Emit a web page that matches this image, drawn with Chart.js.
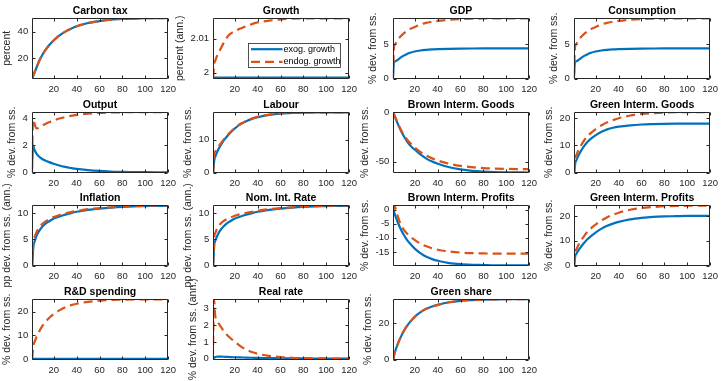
<!DOCTYPE html>
<html>
<head>
<meta charset="utf-8">
<script src="https://cdn.jsdelivr.net/npm/chart.js@4/dist/chart.umd.min.js"></script>
<style>
html, body { margin: 0; padding: 0; overflow: hidden; background: #fff; }
body { position: relative; width: 721px; height: 381px; }
.panel { position: absolute; }
</style>
</head>
<body>
<script>
const periods = [1,2,3,4,5,7,10,13,16,20,25,30,35,40,50,60,70,80,90,100,110,120]
const xTicks = [20,40,60,80,100,120]
const seriesNames = ["exog. growth","endog. growth"]

const carbonExog = [4.4,6.6,8.9,11.1,13.2,17.5,22.5,26.5,29.8,33.5,37.2,40.0,42.2,44.0,46.5,48.0,49.0,49.6,49.9,50.1,50.2,50.3]
const carbonEndog = [4.4,6.6,8.9,11.1,13.2,17.5,22.5,26.5,29.8,33.5,37.2,40.0,42.2,44.0,46.5,48.0,49.0,49.6,49.9,50.1,50.2,50.3]
const growthExog = [1.9985,1.9985,1.9985,1.9985,1.9985,1.9985,1.9985,1.9985,1.9985,1.9985,1.9985,1.9985,1.9985,1.9985,1.9985,1.9985,1.9985,1.9985,1.9985,1.9985,1.9985,1.9985]
const growthEndog = [1.9985,2.0025,2.0036,2.0045,2.0053,2.0066,2.0086,2.0103,2.0114,2.0122,2.0130,2.0137,2.0143,2.0148,2.0153,2.0157,2.0159,2.0160,2.0160,2.0160,2.0160,2.0160]
const gdpExog = [0,2.45,2.5,2.6,2.7,2.95,3.3,3.55,3.75,3.93,4.08,4.17,4.23,4.27,4.32,4.35,4.37,4.38,4.38,4.38,4.38,4.38]
const gdpEndog = [0,4.6,5.0,5.3,5.6,6.0,6.5,6.9,7.2,7.5,7.85,8.1,8.25,8.38,8.55,8.65,8.7,8.73,8.75,8.75,8.75,8.75]
const consExog = [0,2.45,2.5,2.6,2.7,2.95,3.3,3.55,3.75,3.93,4.08,4.17,4.23,4.27,4.32,4.35,4.37,4.38,4.38,4.38,4.38,4.38]
const consEndog = [0,4.6,5.0,5.3,5.6,6.0,6.5,6.9,7.2,7.5,7.85,8.1,8.25,8.38,8.55,8.65,8.7,8.73,8.75,8.75,8.75,8.75]
const outputExog = [0,2.0,1.75,1.55,1.4,1.2,1.0,0.87,0.77,0.65,0.52,0.42,0.34,0.27,0.18,0.12,0.08,0.05,0.04,0.03,0.02,0.01]
const outputEndog = [0,3.9,3.7,3.4,3.25,3.28,3.45,3.58,3.7,3.83,3.97,4.08,4.17,4.24,4.33,4.39,4.42,4.43,4.43,4.43,4.43,4.43]
const labourExog = [0,3.9,5.0,5.9,6.7,8.0,9.7,11.0,12.2,13.5,14.8,15.7,16.4,16.9,17.6,18.0,18.2,18.3,18.35,18.35,18.35,18.35]
const labourEndog = [0,5.9,6.5,7.1,7.6,8.6,10.0,11.2,12.3,13.6,14.9,15.8,16.5,17.0,17.7,18.1,18.3,18.4,18.4,18.4,18.4,18.4]
const brownGoodsExog = [0,-3.2,-6.2,-9,-11.8,-17,-23.7,-29.5,-34,-38,-43,-47,-50,-52.3,-55.8,-58,-59.5,-60.3,-60.8,-61,-61.1,-61.2]
const brownGoodsEndog = [0,-2.8,-5.6,-8.3,-11,-16,-22.5,-27.5,-31.5,-36,-40.5,-44,-46.8,-49,-52.3,-54.5,-55.8,-56.7,-57.2,-57.5,-57.7,-57.7]
const greenGoodsExog = [0,3.5,4.6,5.6,6.5,8.0,9.9,11.4,12.6,13.8,15.0,15.9,16.5,16.9,17.4,17.7,17.85,17.95,18.0,18.0,18.0,18.0]
const greenGoodsEndog = [0,5.5,6.5,7.5,8.4,10.0,12.0,13.5,14.7,16.0,17.4,18.5,19.3,20.0,21.0,21.6,21.9,22.1,22.2,22.2,22.2,22.2]
const inflExog = [0,3.5,4.5,5.2,5.8,6.6,7.5,8.1,8.5,9.0,9.4,9.75,10.05,10.3,10.65,10.9,11.1,11.25,11.35,11.4,11.45,11.45]
const inflEndog = [0,4.5,5.4,6.0,6.5,7.2,8.0,8.5,8.9,9.3,9.7,10.0,10.25,10.45,10.8,11.0,11.15,11.3,11.4,11.45,11.5,11.5]
const nomExog = [0,4.0,4.8,5.4,5.9,6.7,7.5,8.1,8.5,9.0,9.4,9.75,10.05,10.3,10.65,10.9,11.1,11.25,11.35,11.4,11.45,11.45]
const nomEndog = [0,5.5,6.3,6.9,7.3,7.9,8.5,8.9,9.2,9.55,9.85,10.1,10.3,10.5,10.8,11.0,11.15,11.3,11.4,11.45,11.5,11.5]
const brownProfExog = [0,-1.3,-2.5,-3.6,-4.6,-6.5,-8.8,-10.7,-12.2,-13.9,-15.5,-16.7,-17.5,-18.1,-18.9,-19.3,-19.5,-19.6,-19.7,-19.7,-19.7,-19.7]
const brownProfEndog = [0,1.5,0.3,-1.2,-2.5,-4.8,-7.0,-8.5,-9.6,-10.8,-12.1,-13.0,-13.7,-14.2,-14.8,-15.2,-15.4,-15.5,-15.6,-15.6,-15.6,-15.6]
const greenProfExog = [0,4.0,4.8,5.6,6.3,7.6,9.3,10.8,12.0,13.4,14.9,16.0,16.9,17.6,18.6,19.2,19.6,19.8,19.9,20,20,20]
const greenProfEndog = [0,5.5,6.6,7.6,8.5,10.1,12.1,13.8,15.1,16.6,18.2,19.5,20.5,21.3,22.5,23.2,23.6,23.9,24.0,24.1,24.1,24.1]
const rdExog = [0,0,0,0,0,0,0,0,0,0,0,0,0,0,0,0,0,0,0,0,0,0]
const rdEndog = [0,5.5,7.0,8.3,9.5,11.5,13.9,15.8,17.4,19.0,20.6,21.8,22.7,23.3,24.1,24.6,24.9,25.0,25.1,25.1,25.1,25.1]
const realExog = [0,0.05,0.1,0.12,0.13,0.13,0.12,0.11,0.1,0.09,0.08,0.07,0.06,0.05,0.04,0.03,0.02,0.02,0.01,0.01,0.01,0.01]
const realEndog = [0,3.55,2.6,2.3,2.2,2.0,1.7,1.45,1.25,1.02,0.75,0.55,0.4,0.3,0.17,0.1,0.06,0.04,0.03,0.02,0.01,0.01]
const shareExog = [0,3,5,6.8,8.5,11.5,15.3,18.3,20.8,23.5,26.0,27.8,29.1,30.0,31.4,32.2,32.6,32.9,33.0,33.1,33.1,33.1]
const shareEndog = [0,3,5,6.8,8.5,11.5,15.3,18.3,20.8,23.5,26.0,27.8,29.1,30.0,31.4,32.2,32.6,32.9,33.0,33.1,33.1,33.1]

const titles = ["Carbon tax","Growth","GDP","Consumption","Output","Labour","Brown Interm. Goods","Green Interm. Goods",
  "Inflation","Nom. Int. Rate","Brown Interm. Profits","Green Interm. Profits","R&D spending","Real rate","Green share"]
const yLabels = ["percent","percent (ann.)","% dev. from ss.","% dev. from ss.","% dev. from ss.","% dev. from ss.","% dev. from ss.","% dev. from ss.",
  "pp dev. from ss. (ann.)","pp dev. from ss. (ann.)","% dev. from ss.","% dev. from ss.","% dev. from ss.","% dev. from ss. (ann.)","% dev. from ss."]
const yMins = [4.4,1.9982,0,0,0,0,-61.3,0,0,0,-19.8,0,-0.3,-0.05,0]
const yMaxs = [50.3,2.0161,8.8,8.8,4.45,18.5,0.5,22.3,11.6,11.6,1.6,24.4,25.3,3.56,33.2]
const yTicks = [[20,40],[2,2.01],[0,5],[0,5],[0,2,4],[0,10],[-50,0],[0,10,20],[0,5,10],[0,5,10],[-15,-10,-5,0],[0,10,20],[0,10,20],[0,1,2,3],[0,20]]
const exogSeries = [carbonExog,growthExog,gdpExog,consExog,outputExog,labourExog,brownGoodsExog,greenGoodsExog,
  inflExog,nomExog,brownProfExog,greenProfExog,rdExog,realExog,shareExog]
const endogSeries = [carbonEndog,growthEndog,gdpEndog,consEndog,outputEndog,labourEndog,brownGoodsEndog,greenGoodsEndog,
  inflEndog,nomEndog,brownProfEndog,greenProfEndog,rdEndog,realEndog,shareEndog]

/* LAYOUT */
const colLeft = [32,213,393,574]
const rowTop = [18,112,205,299]
const PW = 136, PH = 61
const FONT = '"Liberation Sans", Arial, Helvetica, sans-serif'
const AXIS = "#262626"

/* box, inner ticks, title and legend */
const decor = {
  id: "decor",
  afterDraw(chart, args, opts) {
    const ctx = chart.ctx, a = chart.chartArea
    const sx = chart.scales.x, sy = chart.scales.y
    const L = Math.round(a.left) + 0.5, T = Math.round(a.top) + 0.5
    const R = Math.round(a.right) - 0.5, B = Math.round(a.bottom) - 0.5
    ctx.save()
    ctx.strokeStyle = AXIS
    ctx.lineWidth = 1
    ctx.beginPath()
    ctx.rect(L, T, R - L, B - T)
    sx.ticks.forEach(t => {
      const p = Math.round(sx.getPixelForValue(t.value)) + 0.5
      ctx.moveTo(p, B); ctx.lineTo(p, B - 3)
      ctx.moveTo(p, T); ctx.lineTo(p, T + 3)
    })
    sy.ticks.forEach(t => {
      const p = Math.round(sy.getPixelForValue(t.value)) + 0.5
      ctx.moveTo(L, p); ctx.lineTo(L + 3, p)
      ctx.moveTo(R, p); ctx.lineTo(R - 3, p)
    })
    ctx.stroke()

    ctx.fillStyle = "#000"
    ctx.font = "bold 10.5px " + FONT
    ctx.textAlign = "center"
    ctx.textBaseline = "middle"
    ctx.fillText(opts.title, (a.left + a.right) / 2, a.top - 7)

    if (opts.legend) {
      const bx = Math.round(a.left + 34.5) + 0.5, by = Math.round(a.top + 25) + 0.5
      const bw = 92, bh = 24
      ctx.fillStyle = "#fff"
      ctx.fillRect(bx, by, bw, bh)
      ctx.strokeStyle = AXIS
      ctx.lineWidth = 0.8
      ctx.strokeRect(bx, by, bw, bh)
      chart.data.datasets.forEach((ds, i) => {
        const y = by + 5.7 + i * 12.7
        ctx.strokeStyle = ds.borderColor
        ctx.lineWidth = ds.borderWidth
        ctx.setLineDash(ds.borderDash || [])
        ctx.beginPath(); ctx.moveTo(bx + 2.5, y); ctx.lineTo(bx + 34, y); ctx.stroke()
        ctx.setLineDash([])
        ctx.fillStyle = "#000"
        ctx.font = "9px " + FONT
        ctx.textAlign = "left"
        ctx.fillText(ds.label, bx + 35, y)
      })
    }
    ctx.restore()
  }
}

const toPoints = arr => periods.map((t, i) => ({x: t, y: arr[i]}))

titles.forEach((name, i) => {

  const col = i % 4, row = Math.floor(i / 4)

  const box = document.createElement("div")
  box.className = "panel"
  box.style.width = "260px"
  box.style.height = "200px"
  const cv = document.createElement("canvas")
  box.appendChild(cv)
  document.body.appendChild(box)

  const chart = new Chart(cv, {
    type: "line",
    data: {
      datasets: [{
        label: seriesNames[0],
        data: toPoints(exogSeries[i]),
        borderColor: "#0072BD",
        borderWidth: 2.2,
        pointRadius: 0,
        order: 2,
        cubicInterpolationMode: "monotone"
      }, {
        label: seriesNames[1],
        data: toPoints(endogSeries[i]),
        borderColor: "#D95319",
        borderWidth: 2.2,
        borderDash: [9, 5],
        pointRadius: 0,
        order: 1,
        cubicInterpolationMode: "monotone"
      }]
    },
    options: {
      responsive: true,
      maintainAspectRatio: false,
      animation: false,
      events: [],
      layout: { padding: { top: 40, bottom: 32, left: 2, right: 4 } },
      plugins: {
        legend: { display: false },
        tooltip: { enabled: false },
        decor: { title: name, legend: i === 1 }
      },
      scales: {
        x: {
          type: "linear", min: 1, max: 120,
          grid: { display: false, drawTicks: false },
          border: { display: false },
          afterBuildTicks: s => { s.ticks = xTicks.map(v => ({ value: v })) },
          ticks: { font: { size: 9.5, family: FONT }, color: AXIS, padding: 5, maxRotation: 0, autoSkip: false, callback: v => String(v) }
        },
        y: {
          type: "linear", min: yMins[i], max: yMaxs[i],
          grid: { display: false, drawTicks: false },
          border: { display: false },
          afterBuildTicks: s => { s.ticks = yTicks[i].map(v => ({ value: v })) },
          ticks: { font: { size: 9.5, family: FONT }, color: AXIS, padding: 4, autoSkip: false, callback: v => String(v) },
          title: { display: true, text: yLabels[i], font: { size: 10.5, family: FONT }, color: AXIS, padding: { top: 1, bottom: 0 } }
        }
      }
    },
    plugins: [decor]
  })

  /* size the canvas so that the plot area is PW x PH, then place it */
  const a = chart.chartArea
  box.style.width = Math.round(a.left + PW + chart.width - a.right) + "px"
  box.style.height = Math.round(a.top + PH + chart.height - a.bottom) + "px"
  chart.resize()
  const b = chart.chartArea
  box.style.left = Math.round(colLeft[col] - b.left) + "px"
  box.style.top = Math.round(rowTop[row] - b.top) + "px"

})
</script>
</body>
</html>
